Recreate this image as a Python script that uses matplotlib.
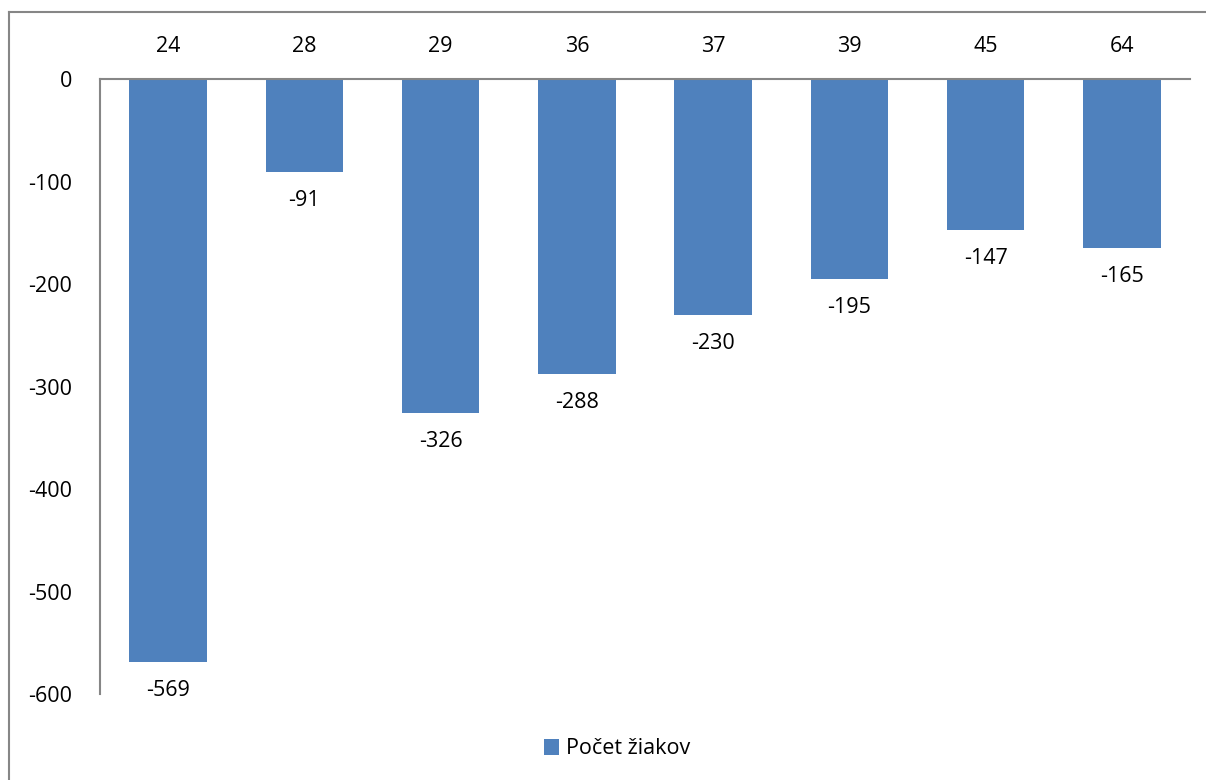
import matplotlib.pyplot as plt
from matplotlib.lines import Line2D

categories = ["24", "28", "29", "36", "37", "39", "45", "64"]
values = [-569, -91, -326, -288, -230, -195, -147, -165]
series_name = "Počet žiakov"

plt.rcParams['font.family'] = ['Open Sans', 'DejaVu Sans']
plt.rcParams['axes.unicode_minus'] = False

W, H = 1206, 780
fs = 15.5
fig = plt.figure(figsize=(W / 100, H / 100), dpi=100)
ax = fig.add_axes([100 / W, 1 - 694 / H, 1090 / W, 615 / H])

color = '#4F81BD'
x = range(len(categories))
bars = ax.bar(x, values, width=0.57, color=color, label=series_name)

ax.set_ylim(-600, 0)
ax.set_xlim(-0.5, len(categories) - 0.5)
ax.set_yticks(range(-600, 1, 100))
ax.tick_params(axis='y', length=0, pad=20, labelsize=fs)
ax.tick_params(axis='x', length=0, pad=16, labelsize=fs, top=True, bottom=False,
               labeltop=True, labelbottom=False)
ax.set_xticks(list(x))
ax.set_xticklabels(categories)

for s in ['right', 'bottom']:
    ax.spines[s].set_visible(False)
for s in ['left', 'top']:
    ax.spines[s].set_color('#868686')
    ax.spines[s].set_linewidth(1.5)

for b, v in zip(bars, values):
    ax.annotate(str(v), (b.get_x() + b.get_width() / 2, v), xytext=(0, -13),
                textcoords='offset points', ha='center', va='top', fontsize=fs)

ax.legend(loc='center', bbox_to_anchor=(617 / W, 1 - 749 / H), bbox_transform=fig.transFigure,
          frameon=False, fontsize=fs, handlelength=0.7, handleheight=0.7, handletextpad=0.3)

# outer chart border
fig.add_artist(Line2D([9 / W, 9 / W], [0, 1 - 12 / H], color='#868686', lw=1.5,
                      transform=fig.transFigure))
fig.add_artist(Line2D([9 / W, 1], [1 - 12 / H, 1 - 12 / H], color='#868686', lw=1.5,
                      transform=fig.transFigure))

fig.savefig('out.png', dpi=100)
